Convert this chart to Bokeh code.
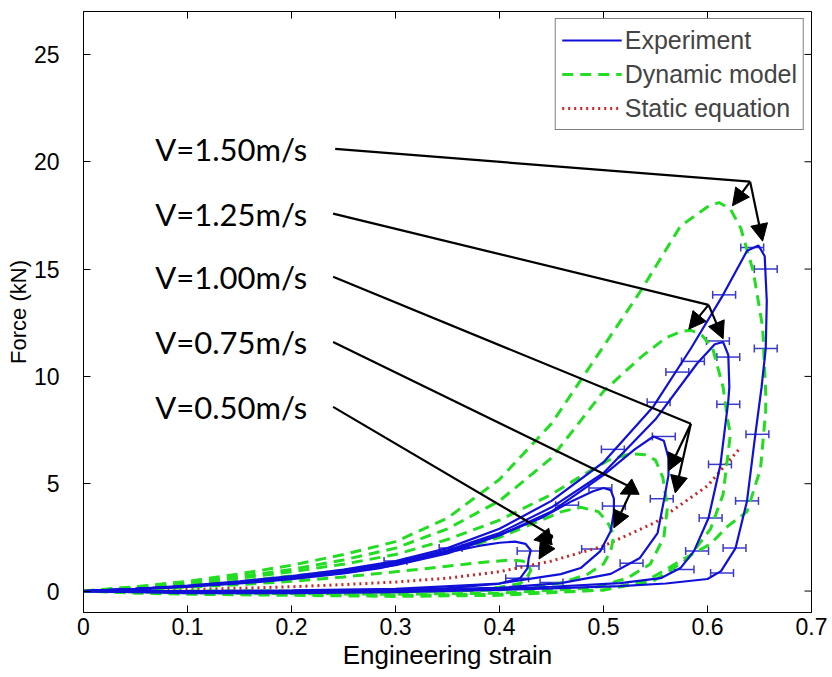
import math
from bokeh.plotting import figure
from bokeh.models import (ColumnDataSource, Range1d, FixedTicker, Legend, LegendItem,
                          Whisker, TeeHead, Arrow, NormalHead, CustomJSTickFormatter)
from bokeh.core.properties import value
from bokeh.embed import file_html
from bokeh.resources import INLINE

# ---------------- data ----------------
x_ticks = [0, 0.1, 0.2, 0.3, 0.4, 0.5, 0.6, 0.7]
y_ticks = [0, 5, 10, 15, 20, 25]
x_min, x_max = 0, 0.7
y_min, y_max = -1, 27

# Experiment loops (blue)
exp150_x = [0, 0.05, 0.1, 0.15, 0.2, 0.25, 0.3, 0.35, 0.4, 0.45, 0.5, 0.548, 0.584, 0.615, 0.638, 0.649,
            0.655, 0.657, 0.656, 0.652, 0.646, 0.638, 0.627, 0.613, 0.6, 0.56, 0.516, 0.45, 0.4, 0.3, 0.2, 0.1, 0.05, 0]
exp150_y = [0, 0.1, 0.25, 0.45, 0.7, 1.0, 1.4, 2.0, 2.9, 4.2, 6.0, 8.6, 11.3, 13.8, 15.85, 16.1,
            15.6, 13.5, 11.3, 9.5, 7.3, 4.2, 2.0, 0.93, 0.56, 0.35, 0.23, 0.12, 0.05, -0.05, -0.1, -0.1, -0.05, 0]
exp125_x = [0, 0.05, 0.1, 0.15, 0.2, 0.25, 0.3, 0.35, 0.4, 0.45, 0.5, 0.55, 0.59, 0.607, 0.615, 0.62, 0.621,
            0.62, 0.6125, 0.601, 0.587, 0.574, 0.555, 0.516, 0.45, 0.4, 0.3, 0.2, 0.1, 0]
exp125_y = [0, 0.1, 0.22, 0.4, 0.65, 0.95, 1.35, 1.9, 2.7, 3.9, 5.5, 8.0, 10.6, 11.5, 11.6, 11.0, 9.5,
            8.86, 5.9, 3.4, 1.86, 1.07, 0.6, 0.37, 0.2, 0.1, 0.0, -0.05, -0.05, 0]
exp100_x = [0, 0.05, 0.1, 0.15, 0.2, 0.25, 0.3, 0.35, 0.4, 0.45, 0.5, 0.53, 0.548, 0.558, 0.5625, 0.5625,
            0.558, 0.552, 0.535, 0.507, 0.459, 0.4, 0.3, 0.2, 0.1, 0]
exp100_y = [0, 0.1, 0.22, 0.4, 0.62, 0.9, 1.3, 1.85, 2.6, 3.7, 5.4, 6.6, 7.2, 7.0, 6.2, 5.4,
            4.2, 2.7, 1.54, 0.8, 0.37, 0.15, 0.05, 0.0, 0.0, 0]
exp075_x = [0, 0.05, 0.1, 0.15, 0.2, 0.25, 0.3, 0.35, 0.4, 0.44, 0.47, 0.49, 0.5, 0.507, 0.51, 0.51,
            0.507, 0.497, 0.478, 0.459, 0.4, 0.3, 0.2, 0.1, 0]
exp075_y = [0, 0.1, 0.22, 0.38, 0.6, 0.85, 1.2, 1.75, 2.6, 3.4, 4.2, 4.65, 4.8, 4.7, 4.3, 3.7,
            2.8, 1.86, 1.07, 0.79, 0.35, 0.1, 0.03, 0.0, 0]
exp050_x = [0, 0.05, 0.1, 0.15, 0.2, 0.25, 0.285, 0.32, 0.35, 0.38, 0.4, 0.415, 0.425, 0.43, 0.428,
            0.427, 0.42, 0.398, 0.35, 0.3, 0.2, 0.1, 0]
exp050_y = [0, 0.08, 0.2, 0.35, 0.55, 0.82, 1.07, 1.45, 1.8, 2.1, 2.25, 2.3, 2.2, 1.9, 1.5,
            1.07, 0.6, 0.33, 0.14, 0.05, 0.0, 0.0, 0]

# Dynamic model loops (green dashed)
dyn150_x = [0, 0.05, 0.1, 0.15, 0.2, 0.25, 0.3, 0.35, 0.4, 0.45, 0.5, 0.536, 0.574, 0.6, 0.611, 0.622,
            0.632, 0.644, 0.653, 0.656, 0.656, 0.651, 0.638, 0.619, 0.603, 0.574, 0.542, 0.5, 0.4, 0.3,
            0.2, 0.1, 0.05, 0]
dyn150_y = [0, 0.2, 0.45, 0.8, 1.2, 1.7, 2.3, 3.4, 5.2, 7.8, 11.4, 14.0, 17.0, 17.9, 18.1, 17.8,
            16.9, 14.9, 12.3, 9.2, 8.4, 5.7, 3.7, 3.0, 2.2, 1.4, 0.5, 0.05, -0.2, -0.25,
            -0.2, -0.15, -0.1, 0]
dyn125_x = [0, 0.05, 0.1, 0.15, 0.2, 0.25, 0.3, 0.35, 0.4, 0.45, 0.5, 0.536, 0.56, 0.575, 0.584, 0.595,
            0.605, 0.615, 0.619, 0.622, 0.615, 0.603, 0.581, 0.548, 0.5, 0.4, 0.3, 0.2, 0.1, 0]
dyn125_y = [0, 0.18, 0.4, 0.68, 1.0, 1.45, 2.0, 2.9, 4.2, 6.2, 9.3, 10.9, 11.8, 12.1, 12.15, 11.9,
            11.3, 9.5, 8.1, 7.3, 4.5, 2.9, 1.5, 0.47, 0.05, -0.15, -0.2, -0.15, -0.1, 0]
dyn100_x = [0, 0.05, 0.1, 0.15, 0.2, 0.25, 0.3, 0.35, 0.4, 0.45, 0.48, 0.505, 0.526, 0.54, 0.55, 0.557,
            0.5615, 0.558, 0.545, 0.523, 0.49, 0.4, 0.3, 0.2, 0.1, 0]
dyn100_y = [0, 0.15, 0.35, 0.6, 0.9, 1.25, 1.7, 2.4, 3.3, 4.5, 5.4, 6.1, 6.4, 6.35, 6.1, 5.3,
            3.9, 2.5, 1.26, 0.6, 0.14, -0.1, -0.15, -0.12, -0.08, 0]
dyn075_x = [0, 0.05, 0.1, 0.15, 0.2, 0.25, 0.3, 0.35, 0.4, 0.44, 0.46, 0.478, 0.495, 0.504, 0.51, 0.507,
            0.5, 0.485, 0.459, 0.4, 0.3, 0.2, 0.1, 0]
dyn075_y = [0, 0.12, 0.28, 0.45, 0.7, 0.95, 1.3, 1.8, 2.5, 3.3, 3.7, 3.9, 3.7, 3.2, 2.6, 1.86,
            1.26, 0.79, 0.37, 0.05, -0.05, -0.05, -0.03, 0]
dyn050_x = [0, 0.05, 0.1, 0.15, 0.2, 0.25, 0.3, 0.34, 0.38, 0.41, 0.422, 0.428, 0.43, 0.426, 0.42,
            0.4, 0.38, 0.3, 0.2, 0.1, 0]
dyn050_y = [0, 0.08, 0.18, 0.3, 0.45, 0.65, 0.9, 1.1, 1.32, 1.45, 1.4, 1.25, 0.95, 0.6, 0.35,
            0.18, 0.1, 0.0, 0.0, 0.0, 0]

# Static equation (red dotted)
static_x = [0, 0.05, 0.1, 0.15, 0.2, 0.25, 0.3, 0.35, 0.4, 0.45, 0.5, 0.55, 0.6, 0.632]
static_y = [0, 0.03, 0.07, 0.13, 0.2, 0.3, 0.42, 0.6, 0.9, 1.4, 2.1, 3.2, 4.9, 6.7]

# Horizontal error bars on the experiment loops
err_x = [0.643, 0.656, 0.616, 0.656, 0.648, 0.638, 0.626, 0.614,
         0.61, 0.62, 0.586, 0.62, 0.612, 0.603, 0.59, 0.576,
         0.571, 0.553, 0.509, 0.558, 0.556, 0.527,
         0.497, 0.51, 0.49, 0.465,
         0.353, 0.428, 0.427, 0.417, 0.3, 0.45]
err_y = [16.0, 15.0, 13.8, 11.3, 7.3, 4.2, 2.0, 0.84,
         11.65, 10.9, 10.7, 8.7, 5.9, 3.4, 1.86, 1.0,
         10.2, 8.8, 6.6, 7.2, 4.3, 1.3,
         4.8, 3.96, 1.96, 4.0,
         2.0, 1.86, 1.17, 0.6, 1.4, 0.4]
err_half = 0.011

# Annotations
ann_text = ["V=1.50m/s", "V=1.25m/s", "V=1.00m/s", "V=0.75m/s", "V=0.50m/s"]
ann_text_x = [0.069, 0.069, 0.069, 0.069, 0.069]
ann_start_x = [0.242, 0.240, 0.240, 0.240, 0.240]
ann_start_y = [20.6, 17.58, 14.64, 11.6, 8.58]
ann_join_x = [0.641, 0.601, 0.584, 0.528, 0.451]
ann_join_y = [19.07, 13.33, 7.79, 4.8, 2.56]
ann_tip1_x = [0.624, 0.582, 0.5625, 0.516, 0.433]
ann_tip1_y = [17.95, 12.2, 5.6, 4.52, 2.38]
ann_tip2_x = [0.653, 0.615, 0.569, 0.51, 0.438]
ann_tip2_y = [16.3, 11.75, 4.57, 2.94, 1.49]

# ---------------- figure ----------------
FONT = "Liberation Sans"
p = figure(width=832, height=677, output_backend="svg", toolbar_location=None,
           x_range=Range1d(x_min, x_max), y_range=Range1d(y_min, y_max),
           min_border_left=83, min_border_right=21, min_border_top=11, min_border_bottom=65)
p.background_fill_color = "white"
p.border_fill_color = "white"
p.outline_line_color = "black"
p.outline_line_width = 1
p.xgrid.visible = False
p.ygrid.visible = False

fmt = CustomJSTickFormatter(code="return (Math.round(tick*10)/10).toString();")
for ax, ticks in ((p.xaxis[0], x_ticks), (p.yaxis[0], y_ticks)):
    ax.ticker = FixedTicker(ticks=ticks)
    ax.major_tick_in = 7
    ax.major_tick_out = 0
    ax.minor_tick_line_color = None
    ax.axis_line_color = "black"
    ax.major_label_text_font = FONT
    ax.major_label_text_font_size = "23px"
    ax.major_label_text_color = "black"
    ax.axis_label_text_font = FONT
    ax.axis_label_text_font_style = "normal"
    ax.axis_label_text_color = "black"
p.xaxis[0].formatter = fmt
p.xaxis[0].axis_label = "Engineering strain"
p.yaxis[0].axis_label = "Force (kN)"
p.xaxis[0].axis_label_text_font_size = "26px"
p.yaxis[0].axis_label_text_font_size = "22px"
p.xaxis[0].major_label_standoff = 5
p.xaxis[0].axis_label_standoff = 2
p.yaxis[0].major_label_standoff = 24
p.yaxis[0].axis_label_standoff = 0

# mirrored inward ticks on the top and right edges (clipped to the frame)
p.scatter(x=x_ticks, y=[y_max] * len(x_ticks), marker="dash", angle=math.pi / 2, size=14,
          line_color="black", line_width=1)
p.scatter(x=[x_max] * len(y_ticks), y=y_ticks, marker="dash", size=14,
          line_color="black", line_width=1)

BLUE = "#1010d8"
GREEN = "#22dd22"
RED = "#cc2222"

static_r = p.line(static_x, static_y, line_color=RED, line_width=3, line_dash="2 4")

dyn_r = []
for xs, ys in ((dyn050_x, dyn050_y), (dyn075_x, dyn075_y), (dyn100_x, dyn100_y),
               (dyn125_x, dyn125_y), (dyn150_x, dyn150_y)):
    dyn_r.append(p.line(xs, ys, line_color=GREEN, line_width=3, line_dash="11 7"))

exp_r = []
for xs, ys in ((exp050_x, exp050_y), (exp075_x, exp075_y), (exp100_x, exp100_y),
               (exp125_x, exp125_y), (exp150_x, exp150_y)):
    exp_r.append(p.line(xs, ys, line_color=BLUE, line_width=2.2))

err_src = ColumnDataSource(dict(base=err_y,
                                lower=[v - err_half for v in err_x],
                                upper=[v + err_half for v in err_x]))
p.add_layout(Whisker(source=err_src, base="base", lower="lower", upper="upper", dimension="width",
                     line_color="#3a3acc", line_width=1.5,
                     lower_head=TeeHead(size=8, line_color="#3a3acc", line_width=1.5),
                     upper_head=TeeHead(size=8, line_color="#3a3acc", line_width=1.5)))

# Annotation lines and arrows
p.segment(x0=ann_start_x, y0=ann_start_y, x1=ann_join_x, y1=ann_join_y, line_color="black", line_width=2.2)
arr_src = ColumnDataSource(dict(x0=ann_join_x + ann_join_x, y0=ann_join_y + ann_join_y,
                                x1=ann_tip1_x + ann_tip2_x, y1=ann_tip1_y + ann_tip2_y))
p.add_layout(Arrow(source=arr_src, x_start="x0", y_start="y0", x_end="x1", y_end="y1",
                   line_color="black", line_width=2.2,
                   end=NormalHead(size=17, fill_color="black", line_color="black")))
p.text(x=ann_text_x, y=ann_start_y, text=ann_text, text_font=value("Lato"), text_font_size="31px",
       text_align="left", text_baseline="middle", text_color="black")

legend = Legend(items=[LegendItem(label="Experiment", renderers=[exp_r[0]]),
                       LegendItem(label="Dynamic model", renderers=[dyn_r[0]]),
                       LegendItem(label="Static equation", renderers=[static_r])],
                location="top_right")
legend.label_text_font = FONT
legend.label_text_font_size = "25px"
legend.glyph_width = 60
legend.glyph_height = 30
legend.label_standoff = 3
legend.spacing = 4
legend.padding = 6
legend.margin = 7
legend.border_line_color = "black"
legend.border_line_width = 1
legend.background_fill_color = "white"
legend.background_fill_alpha = 1
p.add_layout(legend)

open("out.html", "w").write(file_html(p, INLINE))
